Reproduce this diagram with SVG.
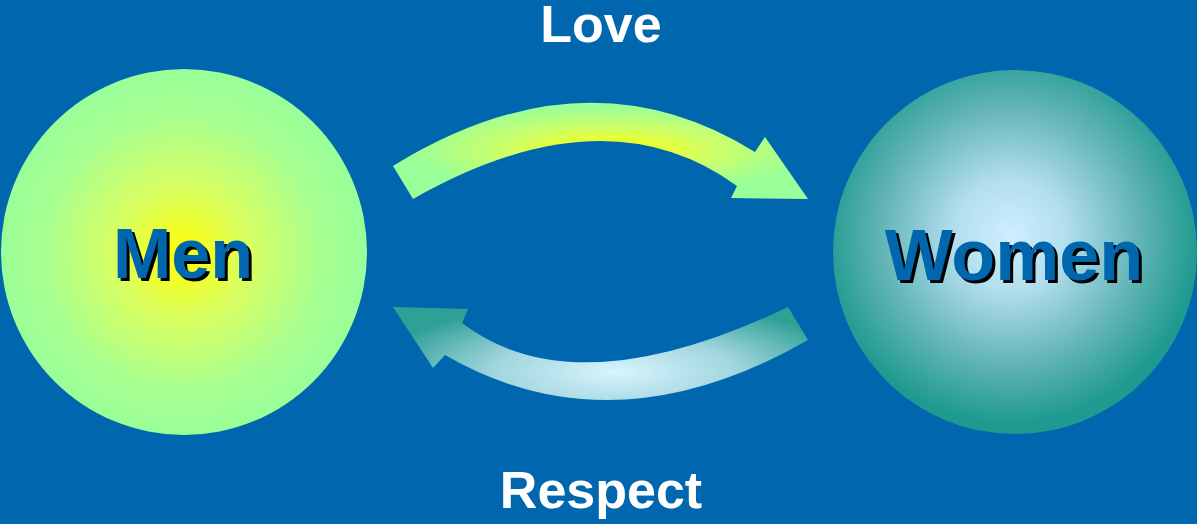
<svg xmlns="http://www.w3.org/2000/svg" width="1197" height="524" viewBox="0 0 1197 524">
  <defs>
    <radialGradient id="gMen" cx="182" cy="254" r="183" gradientUnits="userSpaceOnUse">
      <stop offset="0" stop-color="#FFFF00"/>
      <stop offset="0.35" stop-color="#DAFF60"/>
      <stop offset="0.75" stop-color="#A8FF90"/>
      <stop offset="1" stop-color="#99FF99"/>
    </radialGradient>
    <radialGradient id="gWomen" cx="1010" cy="235" r="188" gradientUnits="userSpaceOnUse">
      <stop offset="0" stop-color="#D0EEFF"/>
      <stop offset="0.3" stop-color="#B2DEEC"/>
      <stop offset="0.7" stop-color="#5FB3B5"/>
      <stop offset="1" stop-color="#1F9A90"/>
    </radialGradient>
    <radialGradient id="gLove" cx="610" cy="150" r="200" gradientUnits="userSpaceOnUse" gradientTransform="translate(610,150) scale(1,0.22) translate(-610,-150)">
      <stop offset="0" stop-color="#FFFF00"/>
      <stop offset="0.5" stop-color="#D0FF66"/>
      <stop offset="1" stop-color="#99FF99"/>
    </radialGradient>
    <radialGradient id="gResp" cx="615" cy="372" r="240" gradientUnits="userSpaceOnUse" gradientTransform="translate(615,372) scale(1,0.3) translate(-615,-372)">
      <stop offset="0" stop-color="#D8F4FF"/>
      <stop offset="0.5" stop-color="#A2D6DE"/>
      <stop offset="1" stop-color="#2FA096"/>
    </radialGradient>
    <style>
      .lbl { font-family: "Liberation Sans", Arial, sans-serif; font-weight: bold; fill: #FFFFFF; font-size: 52px; text-anchor: middle; }
      .name { font-family: "Liberation Sans", Arial, sans-serif; font-weight: bold; text-anchor: middle; }
      .shadow { fill: #000000; }
      .face { fill: #0066AE; }
    </style>
  </defs>
  <rect width="1197" height="524" fill="#0066AE"/>

  <g id="men">
    <circle cx="184" cy="252" r="183" fill="url(#gMen)"/>
    <text class="name shadow" x="186" y="281" font-size="70">Men</text>
    <text class="name face" x="183" y="278" font-size="70">Men</text>
  </g>

  <g id="women">
    <circle cx="1015" cy="252" r="182" fill="url(#gWomen)"/>
    <text class="name shadow" x="1017" y="283" font-size="72">Women</text>
    <text class="name face" x="1014" y="280" font-size="72">Women</text>
  </g>

  <g id="connectors">
    <path d="M393,166 Q586,47 755,152 L765,137 L808,199 L731,198 L737,186 Q605,90 413,199 Z" fill="url(#gLove)"/>
    <path d="M788,307 Q575,409 462,323 L468,309 L393,307 L433,368 L445,355 Q613,452 808,340 Z" fill="url(#gResp)"/>
  </g>

  <text class="lbl" x="601" y="42">Love</text>
  <text class="lbl" x="601" y="508" font-size="51">Respect</text>
</svg>
